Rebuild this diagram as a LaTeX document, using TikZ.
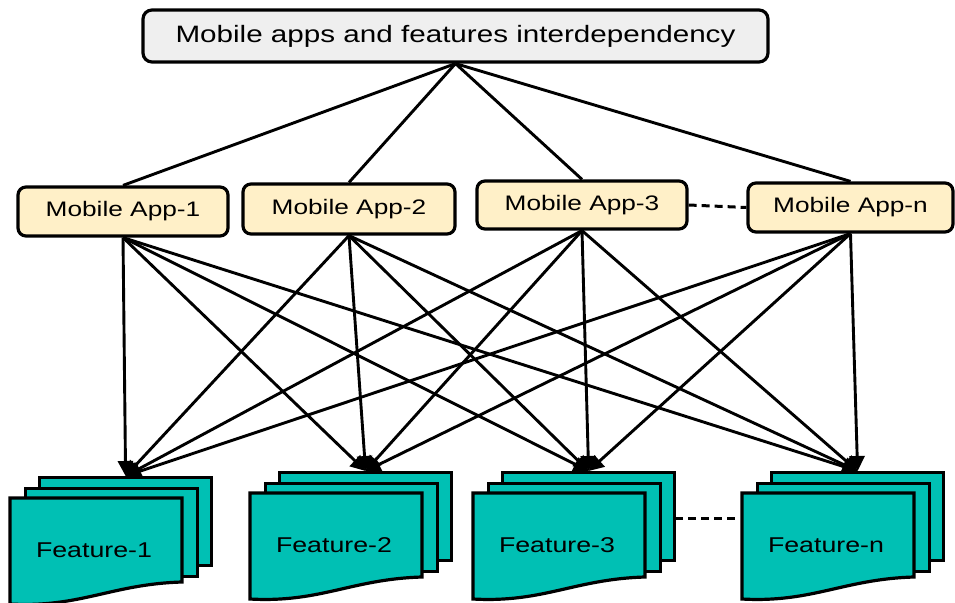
\documentclass[tikz,border=0pt]{standalone}
\usepackage{fontspec}
\setmainfont{Liberation Sans}[FakeStretch=1.25]
\usetikzlibrary{arrows.meta}

\definecolor{appfill}{HTML}{FFF0C8}
\definecolor{featfill}{HTML}{00C0B4}
\definecolor{titlefill}{HTML}{EFEFEF}

\tikzset{
  titlebox/.style={draw, line width=3.2pt, fill=titlefill, rounded corners=9pt,
    minimum width=625pt, minimum height=52pt, inner sep=0pt,
    font=\fontsize{23.7}{28}\selectfont},
  appbox/.style={draw, line width=3.2pt, fill=appfill, rounded corners=8pt,
    minimum height=49pt, inner sep=0pt, font=\fontsize{21}{25}\selectfont},
  sheet/.style={draw, line width=3.2pt, fill=featfill, minimum width=172pt,
    minimum height=88pt, inner sep=0pt, anchor=north west},
  sheetline/.style={draw, line width=3.2pt, fill=featfill, line join=miter},
  feattext/.style={inner sep=0pt, font=\fontsize{21.4}{25}\selectfont},
  link/.style={line width=2.9pt},
  arrowlink/.style={line width=2.9pt, -{Triangle[length=15pt,width=15pt]}},
  gap/.style={line width=3pt, dash pattern=on 8pt off 5pt}
}

% stack of three feature sheets: #1 name, #2 left of front sheet, #3 top of front sheet, #4 label
\newcommand{\featstack}[4]{%
  \node[sheet] (#1-b) at (#2+28,#3-22) {};
  \node[sheet] (#1-m) at (#2+14,#3-11) {};
  \path[sheetline] (#2,#3) -- (#2+172,#3) -- (#2+172,#3+84)
    .. controls (#2+102,#3+86) and (#2+70,#3+110) .. (#2,#3+106) -- cycle;
  \node[feattext] (#1) at (#2+84,#3+52) {#4};
}

\begin{document}
\begin{tikzpicture}[x=1pt,y=-1pt]
  \useasboundingbox (0,0) rectangle (955,602);

  % header and application boxes
  \node[titlebox] (title) at (455.5,36) {Mobile apps and features interdependency};
  \node[appbox, minimum width=210pt] (a1) at (123,211.5) {Mobile App-1};
  \node[appbox, minimum width=212pt, minimum height=50pt] (a2) at (349,209) {Mobile App-2};
  \node[appbox, minimum width=210pt, minimum height=48pt] (a3) at (582,205) {Mobile App-3};
  \node[appbox, minimum width=205pt] (an) at (850.5,207.5) {Mobile App-n};

  \foreach \a in {a1,a2,a3,an}
    \draw[link] (title.south) -- (\a.north);
  \draw[gap] (a3.east) -- (an.west);

  % feature stacks
  \featstack{f1}{10}{498}{Feature-1}
  \featstack{f2}{250}{493}{Feature-2}
  \featstack{f3}{473}{493}{Feature-3}
  \featstack{fn}{742}{493}{Feature-n}

  \coordinate (g3) at (675,518);
  \coordinate (gn) at (739,518);
  \draw[gap] (g3) -- (gn);

  % every application uses every feature
  \foreach \a in {a1,a2,a3,an}
    \foreach \f in {f1,f2,f3,fn}
      \draw[arrowlink] (\a.south) -- (\f-b.north);
\end{tikzpicture}
\end{document}
